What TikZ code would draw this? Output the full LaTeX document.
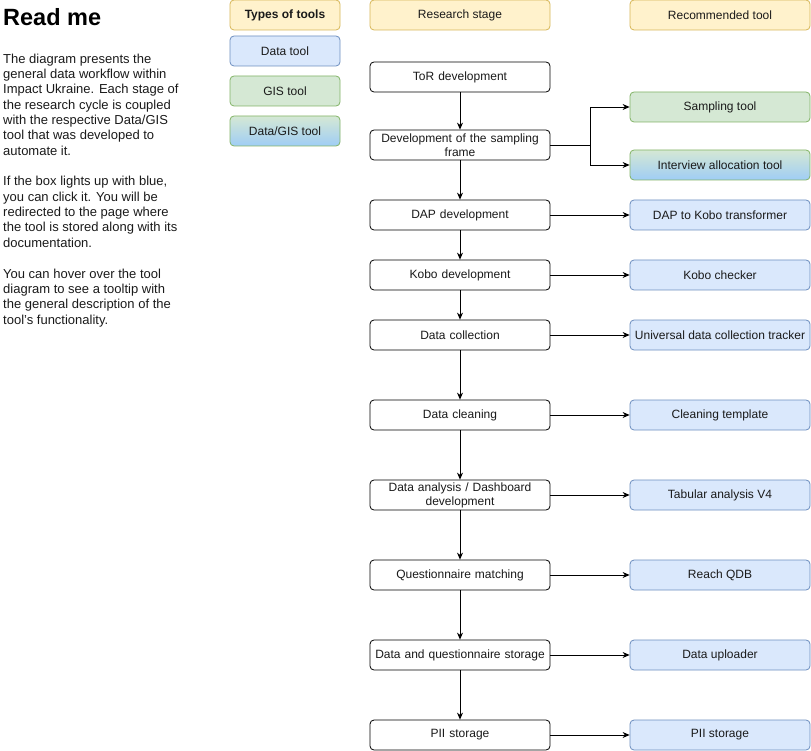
\documentclass[tikz,border=0pt]{standalone}
\usepackage{fontspec}
\setmainfont{Liberation Sans}
\usetikzlibrary{arrows.meta}
\definecolor{yfill}{HTML}{FFF2CC}\definecolor{ydraw}{HTML}{D6B656}
\definecolor{bfill}{HTML}{DAE8FC}\definecolor{bdraw}{HTML}{6C8EBF}
\definecolor{gfill}{HTML}{D5E8D4}\definecolor{gdraw}{HTML}{82B366}
\definecolor{gbot}{HTML}{9FCDF5}
\definecolor{txt}{HTML}{1A1A1A}
\tikzset{
  base/.style={rounded corners=4pt, minimum height=30pt, inner sep=1pt, align=center, font=\fontsize{12}{14}\selectfont, text=txt, line width=0.8pt},
  stage/.style={base, draw=black, fill=white, minimum width=180pt, text width=176pt},
  hdr/.style={base, draw=ydraw, fill=yfill},
  datatool/.style={base, draw=bdraw, fill=bfill},
  gistool/.style={base, draw=gdraw, fill=gfill},
  mixtool/.style={base, draw=gdraw, top color=gfill, bottom color=gbot},
  tool/.style={minimum width=180pt},
  leg/.style={minimum width=110pt},
  arr/.style={-{Stealth[length=7pt,width=6pt]}, line width=0.8pt}
}
\begin{document}
\begin{tikzpicture}[x=1pt,y=-1pt]
\useasboundingbox (0,0) rectangle (811,751);
% read me
\node[anchor=north west, inner sep=0pt, font=\fontsize{23.5}{27}\selectfont\bfseries] (title) at (3,8) {Read me};
\node[anchor=north west, inner sep=0pt, align=left, text=txt, font=\fontsize{13}{15.35}\selectfont] (para) at (3,53.5) {The diagram presents the\\general data workflow within\\Impact Ukraine. Each stage of\\the research cycle is coupled\\with the respective Data/GIS\\tool that was developed to\\automate it.\\[15.35pt]If the box lights up with blue,\\you can click it. You will be\\redirected to the page where\\the tool is stored along with its\\documentation.\\[15.35pt]You can hover over the tool\\diagram to see a tooltip with\\the general description of the\\tool's functionality.};
% legend
\node[hdr, leg, font=\fontsize{12}{14}\selectfont\bfseries] (types) at (285,15) {Types of tools};
\node[datatool, leg] (ldata) at (285,51) {Data tool};
\node[gistool, leg] (lgis) at (285,91) {GIS tool};
\node[mixtool, leg] (lmix) at (285,131) {Data/GIS tool};
% headers
\node[hdr, minimum width=180pt] (hstage) at (460,15) {Research stage};
\node[hdr, minimum width=180pt] (htool) at (720,15) {Recommended tool};
% stages
\node[stage] (s1) at (460,77) {ToR development};
\node[stage] (s2) at (460,145) {Development of the sampling\\frame};
\node[stage] (s3) at (460,215) {DAP development};
\node[stage] (s4) at (460,275) {Kobo development};
\node[stage] (s5) at (460,335) {Data collection};
\node[stage] (s6) at (460,415) {Data cleaning};
\node[stage] (s7) at (460,495) {Data analysis / Dashboard\\development};
\node[stage] (s8) at (460,575) {Questionnaire matching};
\node[stage] (s9) at (460,655) {Data and questionnaire storage};
\node[stage] (s10) at (460,735) {PII storage};
% tools
\node[gistool, tool] (t2a) at (720,107) {Sampling tool};
\node[mixtool, tool] (t2b) at (720,165) {Interview allocation tool};
\node[datatool, tool] (t3) at (720,215) {DAP to Kobo transformer};
\node[datatool, tool] (t4) at (720,275) {Kobo checker};
\node[datatool, tool] (t5) at (720,335) {Universal data collection tracker};
\node[datatool, tool] (t6) at (720,415) {Cleaning template};
\node[datatool, tool] (t7) at (720,495) {Tabular analysis V4};
\node[datatool, tool] (t8) at (720,575) {Reach QDB};
\node[datatool, tool] (t9) at (720,655) {Data uploader};
\node[datatool, tool] (t10) at (720,735) {PII storage};
% vertical arrows
\foreach \a/\b in {s1/s2,s2/s3,s3/s4,s4/s5,s5/s6,s6/s7,s7/s8,s8/s9,s9/s10}
  \draw[arr] (\a.south) -- (\b.north);
% horizontal arrows
\foreach \i in {3,4,5,6,7,8,9,10}
  \draw[arr] (s\i.east) -- (t\i.west);
\coordinate (split) at (590,145);
\draw[arr] (s2.east) -- (split) |- (t2a.west);
\draw[arr] (s2.east) -- (split) |- (t2b.west);
\end{tikzpicture}
\end{document}
